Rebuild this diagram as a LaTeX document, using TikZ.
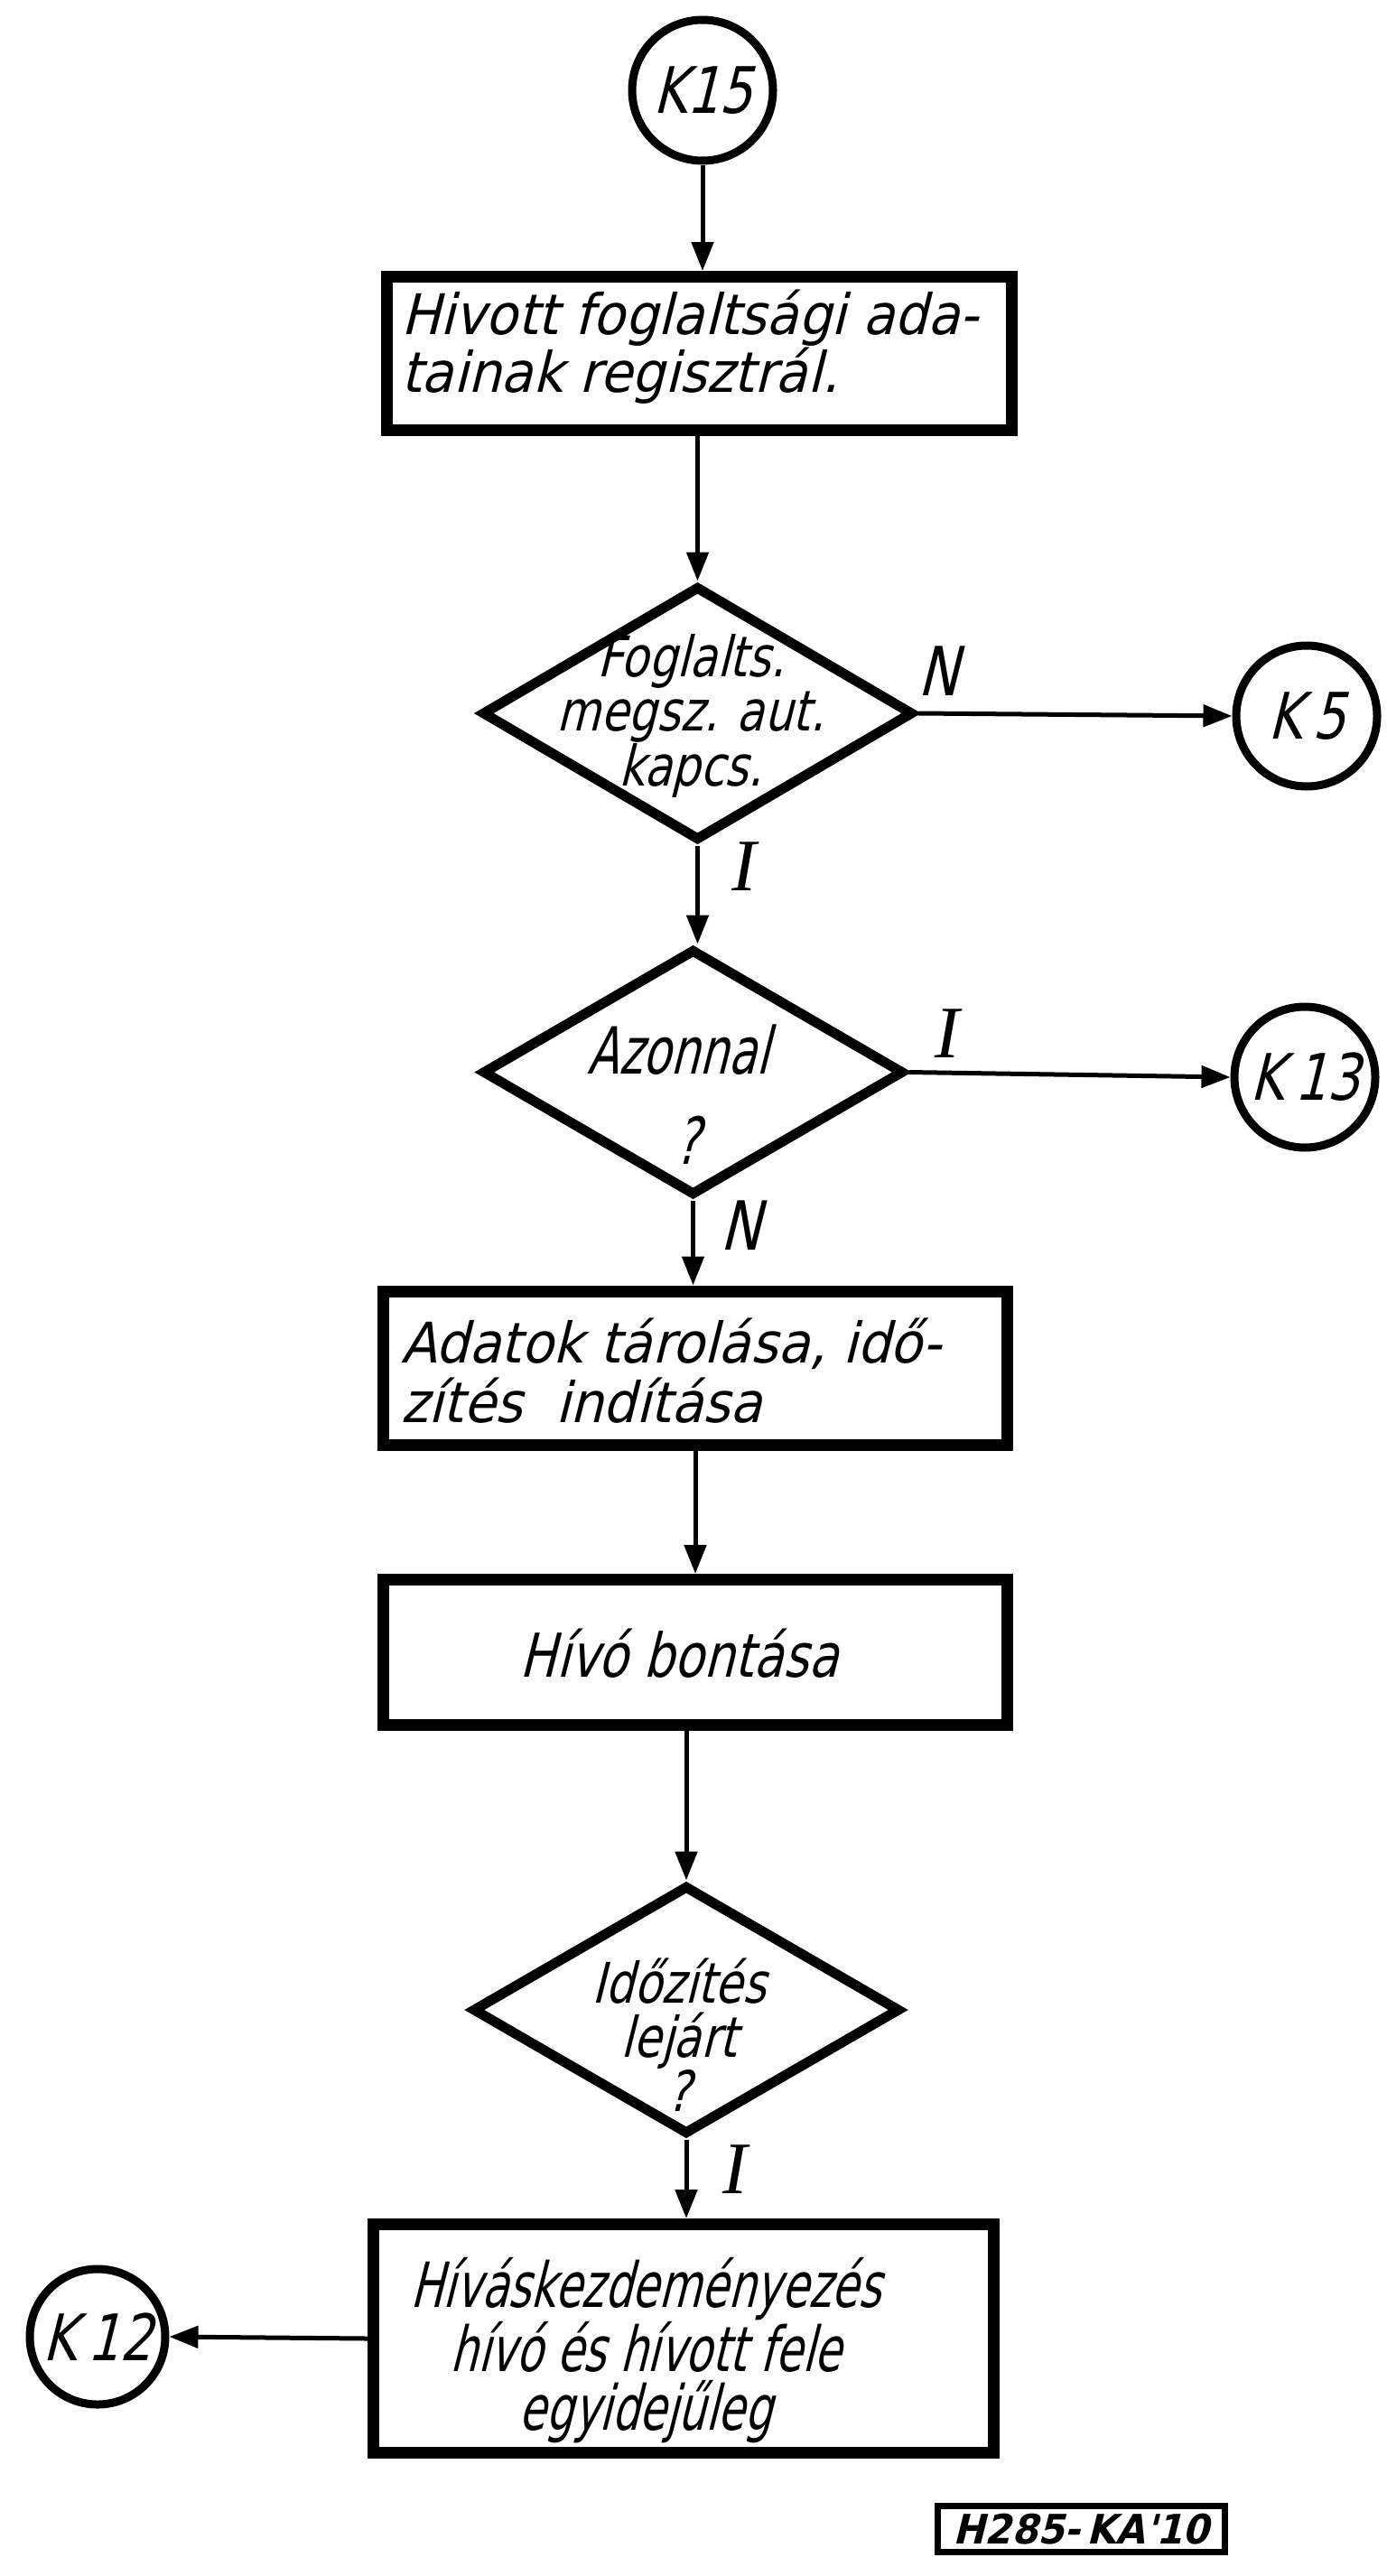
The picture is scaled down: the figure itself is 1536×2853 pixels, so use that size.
\documentclass[tikz,border=0pt]{standalone}
\usepackage{fontspec}
\setmainfont{DejaVu Sans}
% hand-lettering look: slanted sans, condensed to various degrees
\newfontfamily\lettW{DejaVu Sans}[FakeStretch=0.93,FakeSlant=0.25]
\newfontfamily\lettM{DejaVu Sans}[FakeStretch=0.80,FakeSlant=0.25]
\newfontfamily\lettN{DejaVu Sans}[FakeStretch=0.70,FakeSlant=0.25]
\newfontfamily\lettI{Liberation Serif}
\usetikzlibrary{shapes.geometric,arrows.meta}

\begin{document}
\begin{tikzpicture}[x=1pt,y=-1pt,
  procbox/.style={draw, rectangle, line width=13pt, inner sep=0pt},
  decision/.style={draw, diamond, line width=11pt, inner sep=0pt},
  connector/.style={draw, circle, line width=9pt, inner sep=0pt, minimum size=156pt,
    font=\lettM\fontsize{71pt}{71pt}\selectfont},
  flow/.style={line width=5pt, -{Triangle[length=32pt,width=24pt]}},
  lettering/.style={inner sep=0pt},
  branch/.style={inner sep=0pt, font=\lettM\fontsize{75pt}{75pt}\selectfont},
  branchI/.style={inner sep=0pt, font=\lettI\itshape\fontsize{82pt}{82pt}\selectfont},
]
\useasboundingbox (0,0) rectangle (1536,2853);

% ---- shapes ----
\node[connector] (k15) at (778,100) {K15};
\node[procbox, minimum width=692pt, minimum height=170pt] (b1) at (774.5,391.5) {};
\node[decision, minimum width=478pt, minimum height=282pt] (d1) at (772.5,790) {};
\node[connector] (k5) at (1447,793) {K\,5};
\node[decision, minimum width=467pt, minimum height=273pt] (d2) at (767.5,1187.5) {};
\node[connector] (k13) at (1445,1193) {K\,13};
\node[procbox, minimum width=691pt, minimum height=170pt] (b2) at (770,1515) {};
\node[procbox, minimum width=691pt, minimum height=161pt] (b3) at (770,1830) {};
\node[decision, minimum width=474pt, minimum height=276pt] (d3) at (760,2226) {};
\node[procbox, minimum width=687pt, minimum height=253pt] (b4) at (757,2590) {};
\node[connector, minimum size=150pt] (k12) at (108,2588) {K\,12};

% ---- texts inside the shapes ----
\node[lettering, anchor=west, align=left, font=\lettW\fontsize{62pt}{62pt}\selectfont]
  (t1) at (444,384) {Hivott foglaltsági ada-\\tainak regisztrál.};
\node[lettering, align=center, font=\lettM\fontsize{62pt}{60pt}\selectfont]
  (t2) at (765,793) {Foglalts.\\megsz. aut.\\kapcs.};
\node[lettering, font=\lettN\fontsize{72pt}{72pt}\selectfont]
  (t3) at (751,1163) {Azonnal};
\node[lettering, font=\lettN\fontsize{72pt}{72pt}\selectfont]
  (t3q) at (761,1263) {?};
\node[lettering, anchor=west, align=left, font=\lettW\fontsize{62pt}{66pt}\selectfont]
  (t4) at (444,1518) {Adatok tárolása, idő-\\zítés\ \ indítása};
\node[lettering, font=\lettM\fontsize{67pt}{67pt}\selectfont]
  (t5) at (752,1831) {Hívó bontása};
\node[lettering, align=center, font=\lettM\fontsize{62pt}{60pt}\selectfont]
  (t6) at (752,2254) {Időzítés\\lejárt\\?};
\node[lettering, align=center, font=\lettN\fontsize{69pt}{65pt}\selectfont]
  (t7) at (715,2603) {Híváskezdeményezés\\hívó és hívott fele\\egyidejűleg};

% ---- flow lines ----
\draw[flow] (k15.south) -- (k15.south |- b1.north);
\draw[flow] (d1.north |- b1.south) -- (d1.north);
\draw[flow] (d1.east) -- (k5.west);
\draw[flow] (d1.south) -- (d1.south |- d2.north);
\draw[flow] (d2.east) -- (k13.west);
\draw[flow] (d2.south) -- (d2.south |- b2.north);
\draw[flow] (b3.north |- b2.south) -- (b3.north);
\draw[flow] (d3.north |- b3.south) -- (d3.north);
\draw[flow] (d3.south) -- (d3.south |- b4.north);
\draw[flow] (b4.west) -- (k12.east);

% ---- branch marks ----
\node[branch] (n1) at (1039,743) {N};
\node[branchI] (i1) at (824,960) {I};
\node[branchI] (i2) at (1049,1145) {I};
\node[branch] (n2) at (820,1357) {N};
\node[branchI] (i3) at (814,2403) {I};

% ---- drawing number tag ----
\node[draw, rectangle, line width=7pt, minimum width=318pt, minimum height=51pt, inner sep=0pt,
  font=\lettW\bfseries\fontsize{45pt}{45pt}\selectfont] (tag) at (1197.5,2801) {H285-\,KA'10};
\end{tikzpicture}
\end{document}
